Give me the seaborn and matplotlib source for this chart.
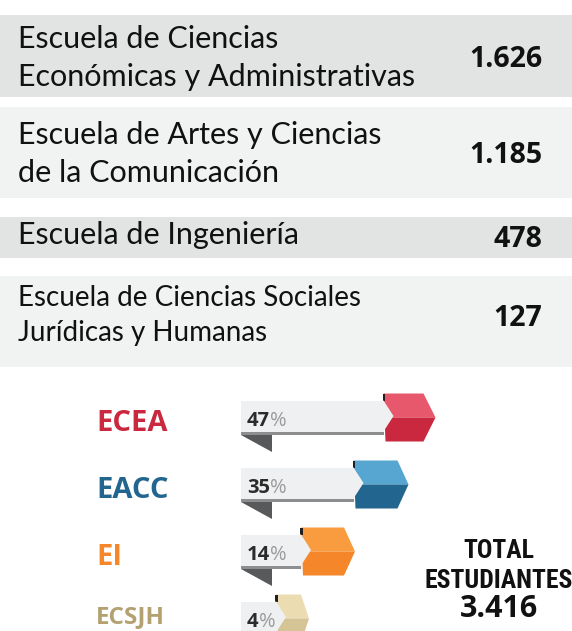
import numpy as np
import pandas as pd
import seaborn as sns
import matplotlib
matplotlib.use("Agg")
import matplotlib.pyplot as plt
from matplotlib.patches import Polygon, Rectangle
from matplotlib.textpath import TextPath
from matplotlib.font_manager import FontProperties

# ---------------- data ----------------
school_lines = [
    ["Escuela de Ciencias", "Económicas y Administrativas"],
    ["Escuela de Artes y Ciencias", "de la Comunicación"],
    ["Escuela de Ingeniería"],
    ["Escuela de Ciencias Sociales", "Jurídicas y Humanas"],
]
students = [1626, 1185, 478, 127]
codes = ["ECEA", "EACC", "EI", "ECSJH"]
shares = [47, 35, 14, 4]
total_title = ["TOTAL", "ESTUDIANTES"]
total_students = 3416

# ---------------- style ----------------
W, H = 572, 631
BAND_COLORS = ["#e2e3e3", "#f1f2f2", "#e2e3e3", "#f1f2f2"]
BANDS = [(15, 97), (107, 198), (217, 258), (276, 367)]
LINE_BASELINES = [[48, 86], [144, 182], [244], [306, 341]]
NUM_BASELINES = [67, 163, 247, 326]
TEXT_X = 18
NUM_RIGHT = 542

CODE_COLORS = ["#c9283f", "#22668f", "#f5862a", "#b3a172"]
HEAD_LIGHT = ["#e8586c", "#56a6d1", "#f89c3f", "#ecdcb1"]
HEAD_DARK = ["#c9283f", "#22668f", "#f5862a", "#d4c496"]
CODE_SIZES = [21, 21, 21, 17.5]
CODE_DY = [13.5, 13.5, 13.5, 5]
HEAD_W = [40, 44, 43, 25]
HEAD_TIP = [12, 11, 11, 8]
BAR_GRAY = "#eff0f1"
SHADOW = "#8d8e90"
FOLD = "#58595b"

BAR_X0 = 241          # pixel where the bars start
PX_PER_PCT = 2.5      # linear scale of the bars
STUB = 25             # fixed neck of each arrow head (pixels)
ROW_PX = 67
FIRST_ROW_PX = 417.5

OPEN = ["Open Sans", "DejaVu Sans"]
COND = ["Roboto Condensed", "Liberation Sans Narrow", "Roboto", "DejaVu Sans"]

sns.set_theme(style="white")
plt.rcParams["font.family"] = ["Lato", "DejaVu Sans"]

fig = plt.figure(figsize=(W / 100, H / 100), dpi=100)
fig.patch.set_facecolor("white")
ax = fig.add_axes([0, 0, 1, 1])
ax.set_xlim(0, W)
ax.set_ylim(H, 0)
ax.axis("off")


def fmt(n):
    return f"{n:,}".replace(",", ".")


def fit_size(text, family, weight, target_px):
    fp = FontProperties(family=family, weight=weight, size=10)
    w = TextPath((0, 0), text, prop=fp).get_extents().width
    return 10 * target_px * 0.72 / w


# ---------------- table ----------------
size_main = fit_size(school_lines[0][1], ["Lato"], "normal", 394)
size_last = fit_size(school_lines[3][0], ["Lato"], "normal", 338)
for r, ((y0, y1), col) in enumerate(zip(BANDS, BAND_COLORS)):
    ax.axhspan(y0, y1, color=col, lw=0, zorder=0)
    fs = size_last if r == 3 else size_main
    for line, yb in zip(school_lines[r], LINE_BASELINES[r]):
        ax.text(TEXT_X, yb, line, ha="left", va="baseline", fontsize=fs,
                family=["Lato", "DejaVu Sans"], color="#111111")
    ax.text(NUM_RIGHT, NUM_BASELINES[r], fmt(students[r]), ha="right", va="baseline",
            fontsize=20.5, fontweight="bold", family=OPEN, color="#111111")

# ---------------- arrows ----------------
top_px = FIRST_ROW_PX - 0.5 * ROW_PX
ax2 = fig.add_axes([BAR_X0 / W, 0, (W - BAR_X0) / W, (H - top_px) / H])
ax2.set_zorder(2)
ax2.patch.set_alpha(0)
df = pd.DataFrame({"code": codes, "share": shares})
sns.barplot(data=df, x="share", y="code", orient="h", color=BAR_GRAY, saturation=1,
            width=34 / ROW_PX, errorbar=None, linewidth=0, ax=ax2)
ax2.set_xlim(0, (W - BAR_X0) / PX_PER_PCT)
ax2.set_ylim((H - FIRST_ROW_PX) / ROW_PX, -0.5)
ax2.axis("off")

to_main = ax.transData.inverted()


def px(x, i):
    return to_main.transform(ax2.transData.transform((x, i)))


T = ax.transData
for i, (code, p) in enumerate(zip(codes, shares)):
    x0, yc = px(0, i)
    xe, _ = px(p, i)
    hx = xe + STUB
    hw, tip = HEAD_W[i], HEAD_TIP[i]
    # neck of the arrow head (continuation of the bar)
    ax2.add_patch(Rectangle((xe - 0.5, yc - 17), hx - xe + 1, 34, color=BAR_GRAY,
                            lw=0, transform=T, clip_on=False, zorder=3))
    # bottom shadow strip
    ax2.add_patch(Rectangle((x0, yc + 14), hx - x0, 3, color=SHADOW, lw=0,
                            transform=T, clip_on=False, zorder=4))
    # colored chevron head
    ax2.add_patch(Polygon([(hx, yc - 24), (hx + hw, yc - 24), (hx + hw + tip, yc), (hx + 1, yc)],
                          closed=True, color=HEAD_LIGHT[i], lw=0, transform=T,
                          clip_on=False, zorder=5))
    ax2.add_patch(Polygon([(hx + 1, yc), (hx + hw + tip, yc), (hx + hw, yc + 24), (hx + 2, yc + 24)],
                          closed=True, color=HEAD_DARK[i], lw=0, transform=T,
                          clip_on=False, zorder=5))
    # dark sliver on the head's top-left
    ax2.add_patch(Rectangle((hx - 1, yc - 24), 2.5, 7, color="#231f20", lw=0,
                            transform=T, clip_on=False, zorder=5.5))
    # pointed end of the bar entering the head
    ax2.add_patch(Polygon([(hx - 1, yc - 17), (hx, yc - 17), (hx + 10, yc - 1.5), (hx, yc + 14), (hx - 1, yc + 14)],
                          closed=True, color=BAR_GRAY, lw=0, transform=T,
                          clip_on=False, zorder=6))
    # folded triangle under the bar start
    ax2.add_patch(Polygon([(x0, yc + 17), (x0 + 31, yc + 17), (x0 + 31, yc + 34)],
                          closed=True, color=FOLD, lw=0, transform=T,
                          clip_on=False, zorder=4))
    # percent label
    t1 = ax2.text(247, yc + 8.5, f"{p}", transform=T, ha="left", va="baseline",
                  fontsize=14.5, fontweight="bold", color="#2b2b2b",
                  family=OPEN, zorder=7)
    ax2.annotate("%", xy=(1, 0), xycoords=t1, xytext=(0, 0), textcoords="offset points",
                 ha="left", va="bottom", fontsize=14.5, color="#9a9b9d",
                 family=OPEN, zorder=7)
    # code label
    ax2.text(96, yc + CODE_DY[i], code, transform=T, ha="left", va="baseline",
             fontsize=CODE_SIZES[i], fontweight="bold", color=CODE_COLORS[i],
             family=OPEN, zorder=7)

# ---------------- total ----------------
size_total = fit_size(total_title[1], COND, "bold", 146)
ax.text(499, 558, total_title[0], ha="center", va="baseline", fontsize=size_total,
        fontweight="bold", family=COND, color="#111111")
ax.text(499, 588, total_title[1], ha="center", va="baseline", fontsize=size_total,
        fontweight="bold", family=COND, color="#111111")
ax.text(499, 617, fmt(total_students), ha="center", va="baseline", fontsize=22,
        fontweight="bold", family=OPEN, color="#111111")

fig.savefig("out.png", dpi=100, facecolor="white")
